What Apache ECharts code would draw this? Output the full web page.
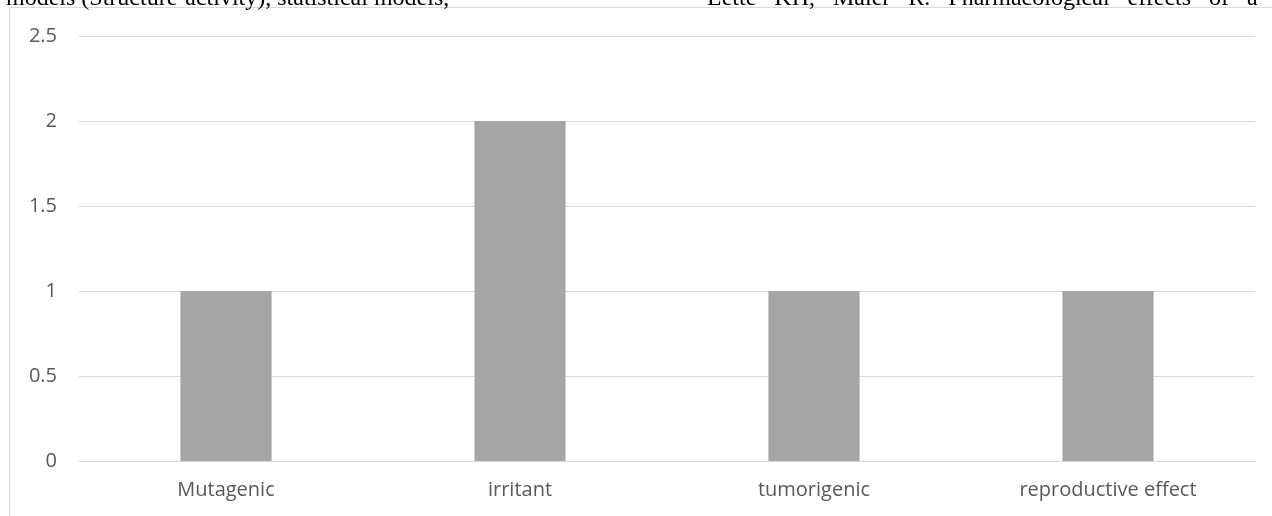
<!DOCTYPE html>
<html>
<head>
<meta charset="utf-8">
<script src="https://cdn.jsdelivr.net/npm/echarts@6/dist/echarts.min.js"></script>
<style>html,body{margin:0;padding:0;background:#fff;}#c{width:1272px;height:516px;}</style>
</head>
<body>
<div id="c"></div>
<script>
const categories = ['Mutagenic', 'irritant', 'tumorigenic', 'reproductive effect'];
const values = [1, 2, 1, 1];
const yTicks = [0, 0.5, 1, 1.5, 2, 2.5];
const headerLeft = 'QSAR models (Structure-activity), statistical models,';
const headerRight = 'Lette   KH,   Maier   R.   Pharmacological   effects   of   a';

const chart = echarts.init(document.getElementById('c'), null, {renderer: 'canvas'});
chart.setOption({
  animation: false,
  backgroundColor: '#ffffff',
  graphic: [
    {type: 'rect', shape: {x: 9.5, y: 7.5, width: 1400, height: 600}, style: {fill: 'none', stroke: '#d9d9d9', lineWidth: 1}, silent: true},
    {type: 'text', x: -64, y: 11, style: {text: headerLeft, font: '24px "Liberation Serif"', fill: '#000', verticalAlign: 'bottom'}},
    {type: 'text', x: 707, y: 11, style: {text: headerRight, font: '24px "Liberation Serif"', fill: '#000', verticalAlign: 'bottom'}}
  ],
  grid: {left: 79, right: 17, top: 36, bottom: 55, containLabel: false},
  xAxis: {
    type: 'category',
    data: categories,
    axisLine: {show: true, lineStyle: {color: '#d9d9d9', width: 1}},
    axisTick: {show: false},
    axisLabel: {color: '#595959', fontSize: 20, fontFamily: '"Open Sans", Calibri, sans-serif', margin: 19}
  },
  yAxis: {
    type: 'value',
    min: yTicks[0],
    max: yTicks[yTicks.length - 1],
    interval: 0.5,
    axisLine: {show: false},
    axisTick: {show: false},
    splitLine: {lineStyle: {color: '#d9d9d9', width: 1}},
    axisLabel: {color: '#595959', fontSize: 20, fontFamily: '"Open Sans", Calibri, sans-serif', margin: 22}
  },
  series: [{
    type: 'bar',
    data: values,
    barWidth: '31%',
    itemStyle: {color: '#a5a5a5'}
  }]
});
</script>
</body>
</html>
